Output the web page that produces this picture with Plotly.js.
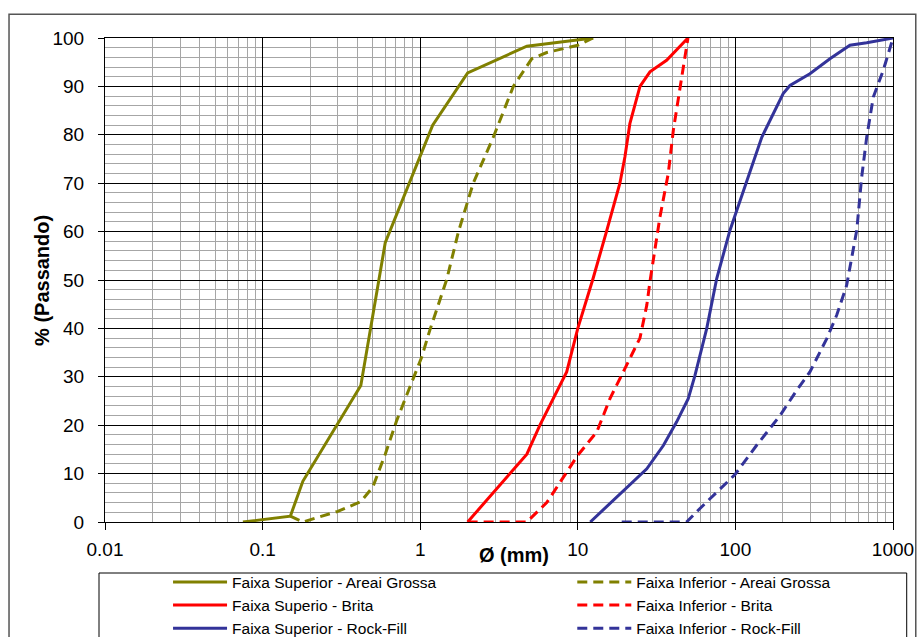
<!DOCTYPE html>
<html>
<head>
<meta charset="utf-8">
<script src="https://cdn.plot.ly/plotly-3.0.1.min.js"></script>
<style>
html,body{margin:0;padding:0;background:#fff;}
#chart{width:917px;height:637px;}
</style>
</head>
<body>
<div id="chart"></div>
<script>
// Series names
const names = [
  "Faixa Superior - Areai Grossa",
  "Faixa Inferior - Areai Grossa",
  "Faixa Superio - Brita",
  "Faixa Inferior - Brita",
  "Faixa Superior - Rock-Fill",
  "Faixa Inferior - Rock-Fill"
];

// Diameter (mm) and % passing
const supAreiaX = [0.075, 0.15, 0.18, 0.3, 0.42, 0.6, 1.2, 2, 4.75, 12.5];
const supAreiaY = [0, 1.2, 8.4, 20.3, 28.2, 57.7, 82, 92.8, 98.3, 100];

const infAreiaX = [0.15, 0.18, 0.3, 0.42, 0.5, 0.6, 0.71, 0.86, 1.02, 1.15, 1.47, 1.75, 2.17, 2.91, 3.9, 5.1, 6.35, 10, 12.5];
const infAreiaY = [1.2, 0, 2.2, 4.2, 7.2, 14, 21, 28, 34, 39.6, 50, 60, 70, 79.5, 90, 95.7, 97, 98.5, 100];

const supBritaX = [2, 3.7, 4.75, 5.75, 7.35, 8.5, 10, 12.5, 15.2, 18.5, 19.9, 21.4, 24.8, 28.7, 36.6, 50];
const supBritaY = [0, 10, 14, 20, 27, 31, 40, 50.3, 60, 70, 75.4, 82.3, 90, 93, 95.4, 100];

const infBritaX = [2, 4.75, 6.35, 8.5, 10, 13.2, 16, 20.4, 24.8, 27.4, 28.8, 33.2, 37.5, 40.4, 44.5, 50];
const infBritaY = [0, 0, 4, 10.3, 13.8, 18.6, 25.5, 32.4, 38, 44.8, 50, 63, 72, 81, 89.5, 100];

const supRockX = [12, 22.5, 27.4, 34.9, 42.4, 50.2, 55.4, 65.8, 76.1, 92.4, 107, 147, 201, 222, 297, 398, 533, 681, 1000];
const supRockY = [0, 8.3, 11, 15.8, 20.7, 25.5, 30.3, 40, 50.3, 60.3, 66.4, 79.5, 88.5, 90.2, 92.6, 95.7, 98.5, 99, 100];

const infRockX = [19, 49, 59.6, 79.9, 99.4, 136, 192, 245, 297, 380, 439, 508, 589, 633, 681, 750, 867, 1000];
const infRockY = [0, 0, 2.8, 6.9, 9.8, 15.8, 22, 27.2, 31, 37.9, 42.7, 48.9, 60.3, 71.3, 79.5, 87.8, 93.3, 100];

const xTickVals = [0.01, 0.1, 1, 10, 100, 1000];
const xTickText = ["0.01", "0.1", "1", "10", "100", "1000"];

const olive = "#808000", red = "#ff0000", blue = "#333399";
const dashPat = "10px,6px";

function tr(x, y, name, color, dashed) {
  return {
    x: x, y: y, name: name, type: "scatter", mode: "lines",
    legend: dashed ? "legend2" : "legend",
    line: {color: color, width: 3, dash: dashed ? dashPat : "solid"},
    hoverinfo: "x+y+name"
  };
}

const data = [
  tr(supAreiaX, supAreiaY, names[0], olive, false),
  tr(infAreiaX, infAreiaY, names[1], olive, true),
  tr(supBritaX, supBritaY, names[2], red, false),
  tr(infBritaX, infBritaY, names[3], red, true),
  tr(supRockX, supRockY, names[4], blue, false),
  tr(infRockX, infRockY, names[5], blue, true)
];

// minor gridline positions on the log axis (2..9 in each decade)
const minorX = [];
for (let e = -2; e < 3; e++) for (let d = 2; d <= 9; d++) minorX.push(d * Math.pow(10, e));

const font = "Liberation Sans, Arial, sans-serif";
const legendBase = {
  orientation: "v", xanchor: "left", yanchor: "top", y: -0.0896,
  font: {size: 15.5, family: font}, bgcolor: "rgba(0,0,0,0)", borderwidth: 0,
  tracegroupgap: 0, itemwidth: 54, traceorder: "normal"
};

const layout = {
  width: 917, height: 637,
  margin: {l: 105, r: 24, t: 38, b: 115, pad: 0, autoexpand: false},
  paper_bgcolor: "#fff", plot_bgcolor: "#fff",
  font: {family: font, color: "#000", size: 19},
  showlegend: true,
  xaxis: {
    type: "log", range: [-2, 3],
    tickvals: xTickVals, ticktext: xTickText,
    ticks: "outside", ticklen: 7, tickcolor: "#000", tickwidth: 1,
    ticklabelstandoff: 3,
    showgrid: true, gridcolor: "#000", gridwidth: 1,
    showline: true, linecolor: "#000", linewidth: 1, mirror: true,
    zeroline: false,
    minor: {tickvals: minorX, showgrid: true, gridcolor: "#a6a6a6", gridwidth: 1, ticks: ""},
    tickfont: {size: 19, family: font}
  },
  yaxis: {
    range: [0, 100], dtick: 10, tick0: 0,
    ticks: "outside", ticklen: 6, tickcolor: "#000", tickwidth: 1,
    ticklabelstandoff: 10,
    showgrid: true, gridcolor: "#000", gridwidth: 1,
    showline: true, linecolor: "#000", linewidth: 1, mirror: true,
    zeroline: false,
    minor: {dtick: 2, showgrid: true, gridcolor: "#a6a6a6", gridwidth: 1, ticks: ""},
    tickfont: {size: 19, family: font}
  },
  legend: Object.assign({}, legendBase, {x: 0.080}),
  legend2: Object.assign({}, legendBase, {x: 0.593}),
  annotations: [
    {text: "<b>Ø (mm)</b>", xref: "paper", yref: "paper", x: 0.519, y: -0.069,
     xanchor: "center", yanchor: "middle", showarrow: false, font: {size: 20, family: font}},
    {text: "<b>% (Passando)</b>", xref: "paper", yref: "paper", x: -0.080, y: 0.5,
     xanchor: "center", yanchor: "middle", textangle: -90, showarrow: false, font: {size: 20, family: font}}
  ],
  shapes: [
    {type: "rect", xref: "paper", yref: "paper", x0: -0.0076, x1: 1.0174, y0: -0.40, y1: -0.1054,
     line: {color: "#000", width: 1}, fillcolor: "rgba(0,0,0,0)", layer: "below"},
    {type: "rect", xref: "paper", yref: "paper", x0: -0.1218, x1: 1.0289, y0: -0.40, y1: 1.049,
     line: {color: "#555", width: 1.5}, fillcolor: "rgba(0,0,0,0)", layer: "below"}
  ]
};

Plotly.newPlot("chart", data, layout, {displayModeBar: false, staticPlot: true});
</script>
</body>
</html>
